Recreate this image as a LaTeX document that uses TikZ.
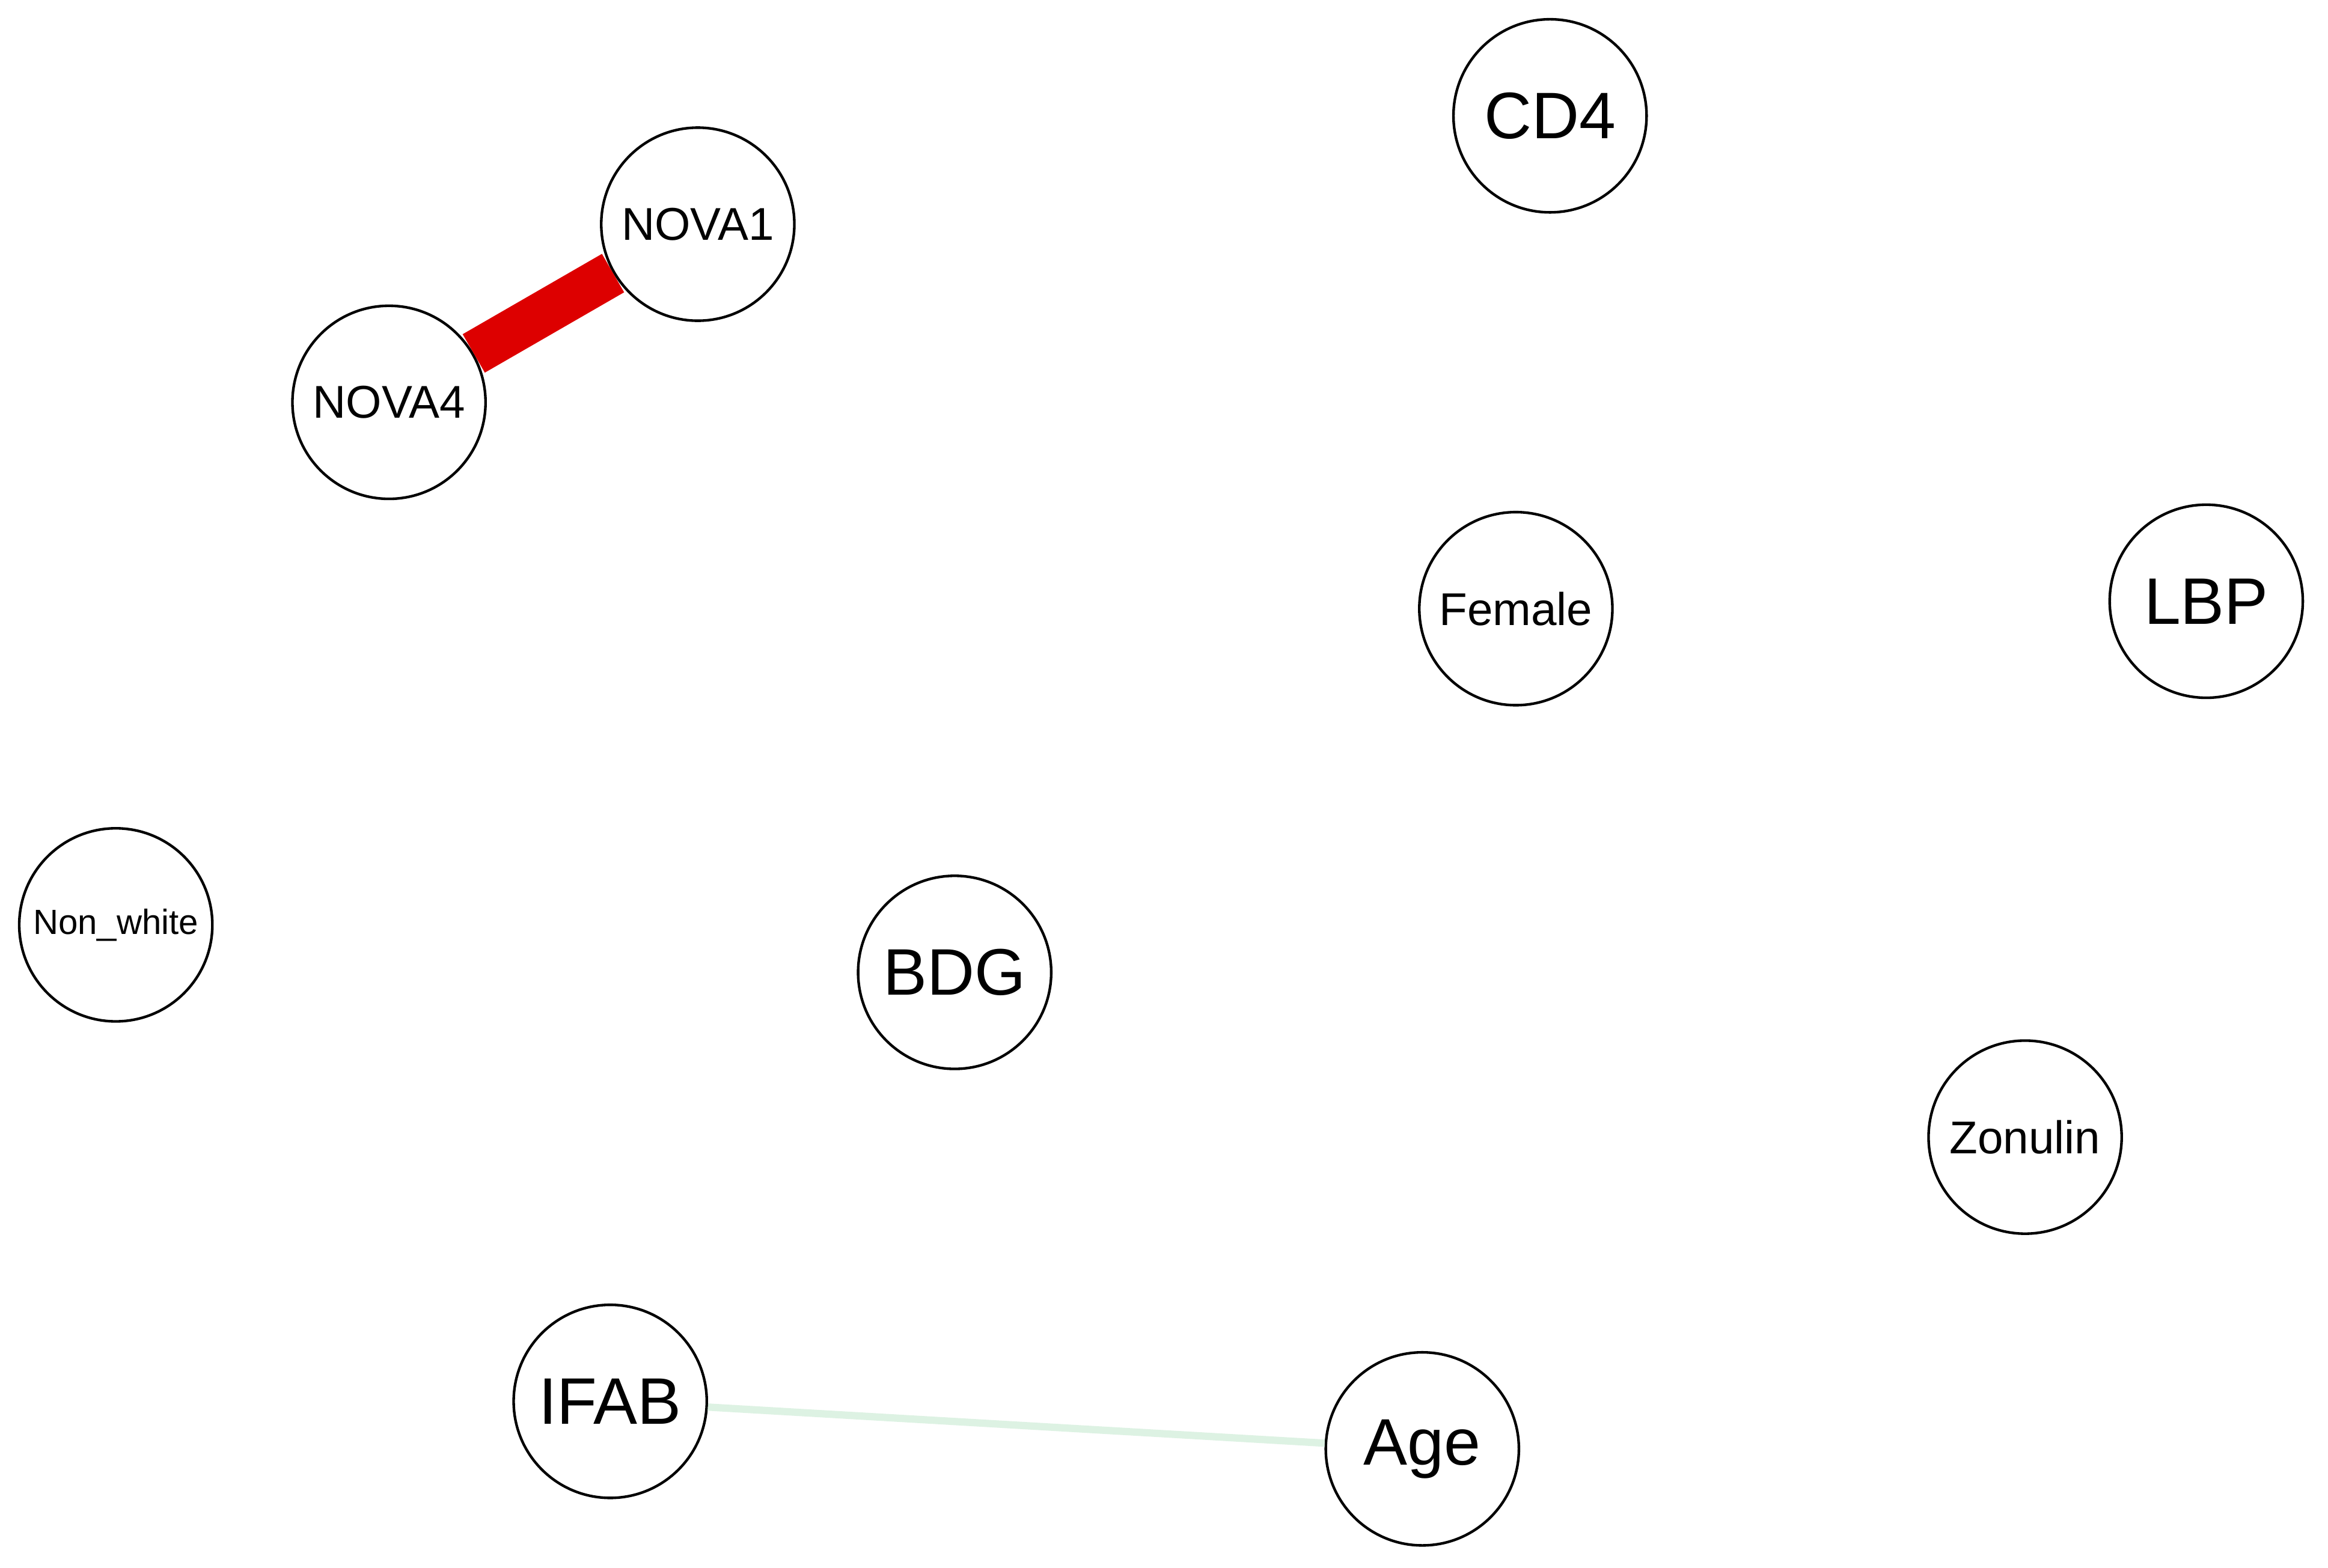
\documentclass[tikz,border=0pt]{standalone}
\usepackage{fontspec}
\setmainfont{Liberation Sans}
\begin{document}
\begin{tikzpicture}[x=0.01cm,y=-0.01cm,
  vnode/.style={draw=black,line width=0.5pt,circle,fill=white,minimum size=1.3cm,inner sep=0pt},
  big/.style={font=\fontsize{12.6}{14}\selectfont},
  mid/.style={font=\fontsize{8.8}{10}\selectfont},
  small/.style={font=\fontsize{6.7}{8}\selectfont},
  redge/.style={draw={rgb,255:red,221;green,0;blue,0},line width=8.5pt},
  gedge/.style={draw={rgb,255:red,221;green,242;blue,227},line width=1.4pt}]
\fill[white] (0,0) rectangle (1568,1056);
\useasboundingbox (0,0) rectangle (1568,1056);
\node[vnode,big] (CD4) at (1044,78) {CD4};
\node[vnode,mid] (NOVA1) at (470,151) {NOVA1};
\node[vnode,mid] (NOVA4) at (262,271) {NOVA4};
\node[vnode,mid] (Female) at (1021,410) {Female};
\node[vnode,big] (LBP) at (1486,405) {LBP};
\node[vnode,small] (Nonwhite) at (78,623) {Non\_white};
\node[vnode,big] (BDG) at (643,655) {BDG};
\node[vnode,mid] (Zonulin) at (1364,766) {Zonulin};
\node[vnode,big] (IFAB) at (411,944) {IFAB};
\node[vnode,big] (Age) at (958,976) {Age};
\draw[redge] (NOVA4) -- (NOVA1);
\draw[gedge] (IFAB) -- (Age);
\end{tikzpicture}
\end{document}
